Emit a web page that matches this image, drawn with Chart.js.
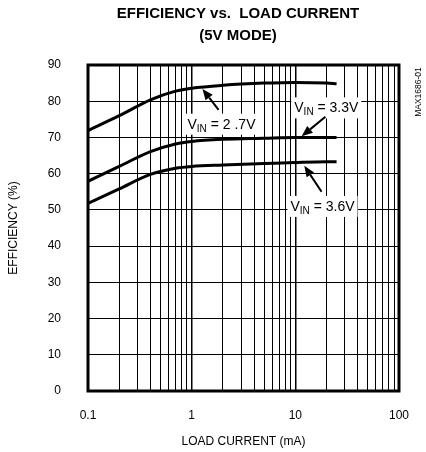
<!DOCTYPE html>
<html lang="en">
<head>
<meta charset="utf-8">
<title>Efficiency vs. Load Current (5V Mode)</title>
<script src="https://cdn.jsdelivr.net/npm/chart.js"></script>
<style>
    html, body { margin: 0; padding: 0; background: #fff; }
    #wrap { width: 426px; height: 452px; }
</style>
</head>
<body>
<div id="wrap"><canvas id="effChart" width="426" height="452"></canvas></div>

<script>
    // Load current (mA) and efficiency (%)
    const loadCurrent = [0.1, 0.2, 0.4, 0.7, 1, 2, 5, 10, 20, 25];
    const effVin27 = [71.9, 76.0, 80.4, 82.8, 83.6, 84.4, 85.0, 85.2, 85.0, 84.8];
    const effVin33 = [57.9, 62.0, 66.1, 68.2, 68.9, 69.5, 69.8, 70.0, 70.0, 70.0];
    const effVin36 = [51.8, 55.8, 59.8, 61.5, 62.0, 62.4, 62.8, 63.1, 63.3, 63.3];

    const xTickLabels = [0.1, 1, 10, 100];
    const yMin = 0, yMax = 90, yStep = 10;

    // callouts: label centre, arrow tail and tip, all in data units
    const callouts = [
        { text: '2 .7V', box: [1.94, 73.8], from: [1.82, 77.6], to: [1.27, 83.4] },
        { text: '3.3V', box: [19.9, 78.3], from: [19.5, 75.7], to: [11.5, 70.3] },
        { text: '3.6V', box: [18.3, 51.1], from: [17.9, 55.0], to: [12.2, 62.2] }
    ];

    const FONT = "'Liberation Sans', Arial, Helvetica, sans-serif";

    // grid lines at 1..9 of every decade
    const xGrid = [];
    for (let d = 0; d < xTickLabels.length - 1; d++) {
        for (let m = 1; m < 10; m++) xGrid.push(+(xTickLabels[d] * m).toPrecision(3));
    }
    xGrid.push(xTickLabels[xTickLabels.length - 1]);

    const toPoints = ys => loadCurrent.map((x, i) => ({ x: x, y: ys[i] }));

    const lineStyle = {
        borderColor: '#000',
        borderWidth: 3,
        pointRadius: 0,
        fill: false,
        cubicInterpolationMode: 'monotone'
    };

    function drawArrow(ctx, x0, y0, x1, y1) {
        const ang = Math.atan2(y1 - y0, x1 - x0);
        const len = 11, half = 4.5;
        const bx = x1 - len * Math.cos(ang), by = y1 - len * Math.sin(ang);
        ctx.beginPath();
        ctx.moveTo(x0, y0);
        ctx.lineTo(bx, by);
        ctx.lineWidth = 2;
        ctx.stroke();
        ctx.beginPath();
        ctx.moveTo(x1, y1);
        ctx.lineTo(bx + half * Math.sin(ang), by - half * Math.cos(ang));
        ctx.lineTo(bx - half * Math.sin(ang), by + half * Math.cos(ang));
        ctx.closePath();
        ctx.fill();
    }

    const decor = {
        id: 'decor',
        afterDatasetsDraw(chart) {
            const { ctx, chartArea: a, scales: { x, y } } = chart;
            ctx.save();
            ctx.fillStyle = '#000';
            ctx.strokeStyle = '#000';

            callouts.forEach(c => {
                const cx = x.getPixelForValue(c.box[0]);
                const cy = y.getPixelForValue(c.box[1]);
                const big = '14px ' + FONT, small = '10px ' + FONT;
                const rest = ' = ' + c.text;
                ctx.font = big;  const wV = ctx.measureText('V').width, wR = ctx.measureText(rest).width;
                ctx.font = small; const wS = ctx.measureText('IN').width;
                const w = wV + wS + wR;
                const left = cx - w / 2;
                ctx.fillStyle = '#fff';
                ctx.fillRect(left - 3, cy - 10, w + 6, 21);
                ctx.fillStyle = '#000';
                ctx.textBaseline = 'alphabetic';
                ctx.textAlign = 'left';
                ctx.font = big;  ctx.fillText('V', left, cy + 5);
                ctx.font = small; ctx.fillText('IN', left + wV, cy + 8);
                ctx.font = big;  ctx.fillText(rest, left + wV + wS, cy + 5);

                drawArrow(ctx,
                    x.getPixelForValue(c.from[0]), y.getPixelForValue(c.from[1]),
                    x.getPixelForValue(c.to[0]), y.getPixelForValue(c.to[1]));
            });

            // heavy frame round the plot
            ctx.lineWidth = 3;
            ctx.strokeRect(a.left, a.top, a.right - a.left, a.bottom - a.top);
            ctx.restore();
        },
        afterDraw(chart) {
            const ctx = chart.ctx;
            const a = chart.chartArea;
            ctx.save();
            ctx.fillStyle = '#000';
            ctx.textAlign = 'center';
            ctx.textBaseline = 'middle';
            ctx.font = 'bold 15px ' + FONT;
            ctx.fillText('EFFICIENCY vs.  LOAD CURRENT', 238, 14);
            ctx.fillText('(5V MODE)', 238, 36);

            ctx.font = '12px ' + FONT;
            ctx.fillText('LOAD CURRENT (mA)', (a.left + a.right) / 2, 442);

            ctx.save();
            ctx.translate(14, (a.top + a.bottom) / 2);
            ctx.rotate(-Math.PI / 2);
            ctx.fillText('EFFICIENCY (%)', 0, 0);
            ctx.restore();

            ctx.save();
            ctx.translate(419, 92);
            ctx.rotate(-Math.PI / 2);
            ctx.font = '8.5px ' + FONT;
            ctx.fillText('MAX1686-01', 0, 0);
            ctx.restore();
            ctx.restore();
        }
    };

    Chart.defaults.font.family = FONT;
    Chart.defaults.color = '#000';

    new Chart(document.getElementById('effChart').getContext('2d'), {
        type: 'line',
        data: {
            datasets: [
                Object.assign({ label: 'VIN = 2.7V', data: toPoints(effVin27) }, lineStyle),
                Object.assign({ label: 'VIN = 3.3V', data: toPoints(effVin33) }, lineStyle),
                Object.assign({ label: 'VIN = 3.6V', data: toPoints(effVin36) }, lineStyle)
            ]
        },
        options: {
            responsive: false,
            devicePixelRatio: 1,
            animation: false,
            layout: { padding: { top: 65, right: 12, left: 0, bottom: 0 } },
            plugins: {
                legend: { display: false },
                tooltip: { enabled: false }
            },
            scales: {
                x: {
                    type: 'logarithmic',
                    min: 0.1,
                    max: 100,
                    afterBuildTicks: s => { s.ticks = xGrid.map(v => ({ value: v })); },
                    afterFit: s => { s.height = 61; },
                    border: { display: false },
                    grid: {
                        color: '#000',
                        lineWidth: c => (c.tick && xTickLabels.includes(c.tick.value)) ? 1.5 : 1,
                        drawTicks: false
                    },
                    ticks: {
                        autoSkip: false,
                        maxRotation: 0,
                        padding: 17,
                        font: { size: 12 },
                        callback: v => xTickLabels.includes(v) ? String(v) : ''
                    }
                },
                y: {
                    min: yMin,
                    max: yMax,
                    afterFit: s => { s.width = 88; },
                    border: { display: false },
                    grid: { color: '#000', lineWidth: 1, drawTicks: false },
                    ticks: { stepSize: yStep, padding: 27, font: { size: 12 } }
                }
            }
        },
        plugins: [decor]
    });
</script>
</body>
</html>
